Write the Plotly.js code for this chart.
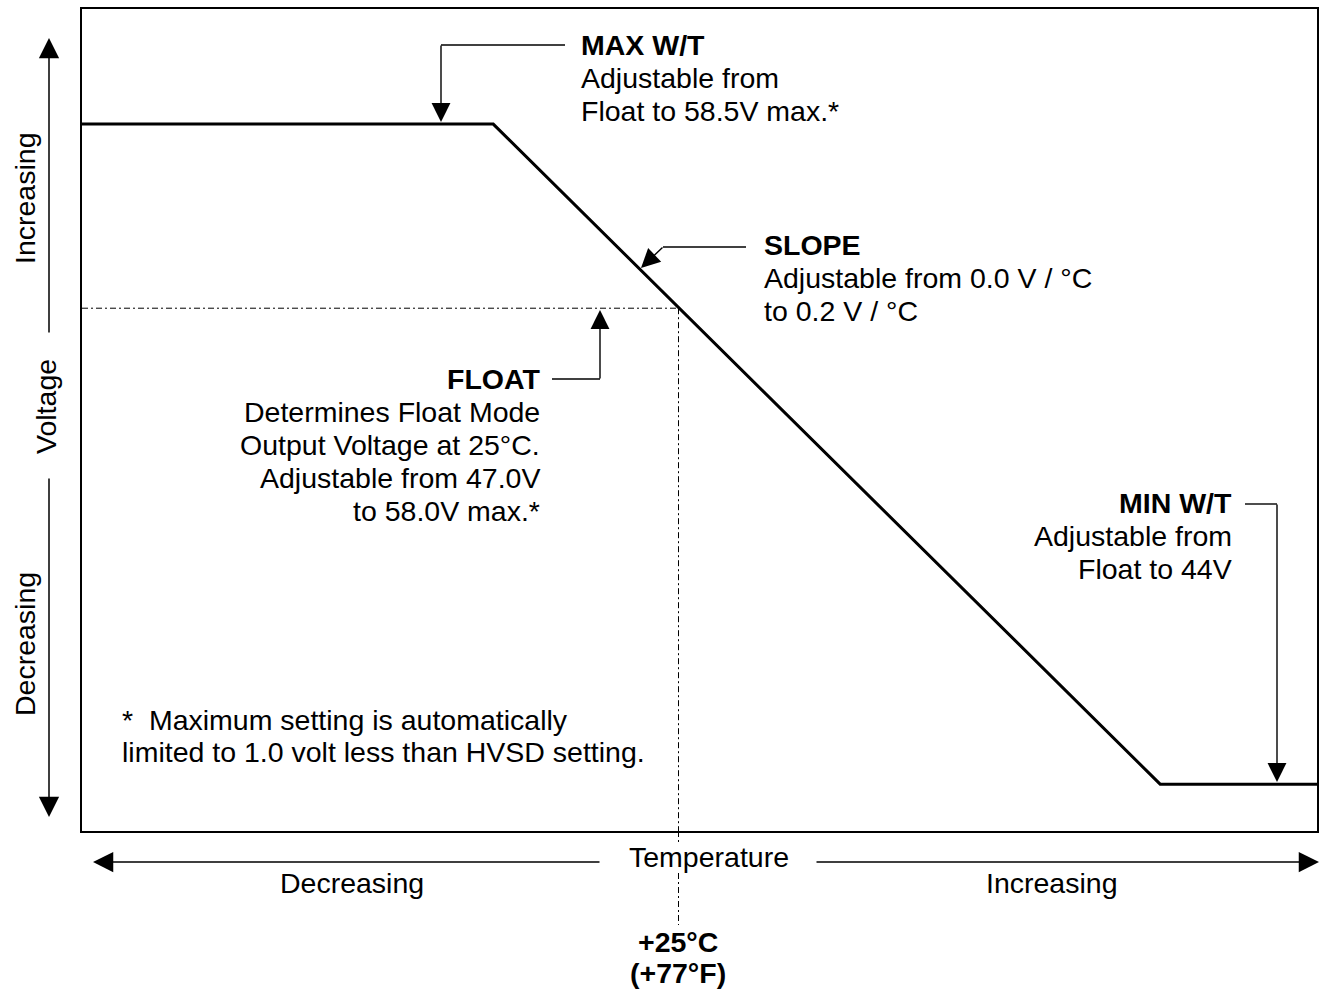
<!DOCTYPE html>
<html><head><meta charset="utf-8">
<script src="https://cdn.plot.ly/plotly-3.0.1.min.js"></script>
<style>html,body{margin:0;padding:0;background:#fff;}</style>
</head><body>
<div id="chart" style="width:1324px;height:993px;"></div>
<script>
// ---- Data (relative units: temperature 0-100 left->right, voltage 0-100 bottom->top)
const temperature = [0, 33.3, 87.3, 100];
const voltage = [86.0, 86.0, 5.7, 5.7];
const floatTemp = 48.3;   // +25°C reference point
const floatVolt = 63.6;   // float voltage

// ---- Text
const maxLines = ['<b>MAX W/T</b>', 'Adjustable from', 'Float to 58.5V max.*'];
const slopeLines = ['<b>SLOPE</b>', 'Adjustable from 0.0 V / °C', 'to 0.2 V / °C'];
const floatLines = ['<b>FLOAT</b>', 'Determines Float Mode', 'Output Voltage at 25°C.', 'Adjustable from 47.0V', 'to 58.0V max.*'];
const minLines = ['<b>MIN W/T</b>', 'Adjustable from', 'Float to 44V'];
const noteLines = ['*  Maximum setting is automatically', 'limited to 1.0 volt less than HVSD setting.'];
const yLabels = ['Increasing', 'Voltage', 'Decreasing'];
const xLabels = ['Temperature', 'Decreasing', 'Increasing'];
const tempLabels = ['<b>+25°C</b>', '<b>(+77°F)</b>'];

// ---- Layout geometry (pixels)
const W = 1324, H = 993, L = 82, R = 1317, T = 9, B = 831;
const px = v => (v - L) / (R - L);
const py = v => (B - v) / (B - T);
const FONT = {family: 'Liberation Sans, Arial, sans-serif', size: 28.5, color: '#000'};

const annotations = [];
function txt(text, x, y, anchor, extra) {
  annotations.push(Object.assign({
    xref: 'paper', yref: 'paper', x: px(x), y: py(y), xanchor: anchor, yanchor: 'middle',
    text: text, showarrow: false, font: FONT, borderpad: 0
  }, extra || {}));
}
function block(lines, x, y0, step, anchor) {
  lines.forEach((t, i) => txt(t, x, y0 + i * step, anchor));
}
function arrow(tipX, tipY, tailX, tailY, w) {
  annotations.push({
    xref: 'paper', yref: 'paper', x: px(tipX), y: py(tipY),
    ax: tailX - tipX, ay: tailY - tipY, axref: 'pixel', ayref: 'pixel',
    text: '', showarrow: true, arrowhead: 2, arrowsize: 2.7, arrowwidth: w || 1.4,
    arrowcolor: '#000', standoff: 0, borderpad: 0
  });
}

block(maxLines, 580, 45, 33, 'left');
block(slopeLines, 763, 245, 33, 'left');
block(floatLines, 541, 379, 33, 'right');
block(minLines, 1233, 503, 33, 'right');
block(noteLines, 121, 720, 32, 'left');

txt(yLabels[0], 25, 198, 'center', {textangle: -90});
txt(yLabels[1], 46, 407, 'center', {textangle: -90});
txt(yLabels[2], 25, 644, 'center', {textangle: -90});
txt(xLabels[0], 709, 857, 'center');
txt(xLabels[1], 352, 883, 'center');
txt(xLabels[2], 1052, 883, 'center');
txt(tempLabels[0], 678, 942, 'center');
txt(tempLabels[1], 678, 973, 'center');

// connector arrows
arrow(441, 122, 441, 45);
arrow(641, 268, 663, 247);
arrow(600, 310, 600, 379);
arrow(1277, 782, 1277, 504);
// axis direction arrows
arrow(49, 38, 49, 333, 1.5);
arrow(49, 817, 49, 478, 1.5);
arrow(93, 862, 600, 862, 1.5);
arrow(1319, 862, 816, 862, 1.5);

const seg = (x0, y0, x1, y1, w) => ({type: 'line', xref: 'paper', yref: 'paper',
  x0: px(x0), x1: px(x1), y0: py(y0), y1: py(y1), line: {color: '#000', width: w || 1.4}});
const DASH = '6px,3px,2px,3px';
const shapes = [
  seg(441, 45, 565, 45),
  seg(663, 247, 746, 247),
  seg(552, 379, 600, 379),
  seg(1245, 504, 1277, 504),
  {type: 'line', xref: 'x', yref: 'y', x0: 0, x1: floatTemp, y0: floatVolt, y1: floatVolt,
   line: {color: '#000', width: 1, dash: DASH}},
  {type: 'line', xref: 'x', yref: 'y', x0: floatTemp, x1: floatTemp, y0: floatVolt, y1: 0,
   line: {color: '#000', width: 1, dash: DASH}},
  {type: 'line', xref: 'x', yref: 'paper', x0: floatTemp, x1: floatTemp, y0: 0, y1: py(842),
   line: {color: '#000', width: 1, dash: DASH}},
  {type: 'line', xref: 'x', yref: 'paper', x0: floatTemp, x1: floatTemp, y0: py(873), y1: py(925),
   line: {color: '#000', width: 1, dash: DASH}}
];

const trace = {
  x: temperature, y: voltage, type: 'scatter', mode: 'lines',
  line: {color: '#000', width: 3}, hoverinfo: 'skip', showlegend: false
};

const axis = {range: [0, 100], showgrid: false, zeroline: false, showticklabels: false,
  ticks: '', showline: true, mirror: true, linecolor: '#000', linewidth: 2, fixedrange: true};

const layout = {
  width: W, height: H,
  margin: {l: L, r: W - R, t: T, b: H - B, pad: 0},
  paper_bgcolor: '#fff', plot_bgcolor: '#fff',
  xaxis: Object.assign({}, axis),
  yaxis: Object.assign({}, axis),
  showlegend: false,
  font: FONT,
  annotations: annotations,
  shapes: shapes
};

Plotly.newPlot('chart', [trace], layout, {staticPlot: true, displayModeBar: false});
</script>
</body></html>
